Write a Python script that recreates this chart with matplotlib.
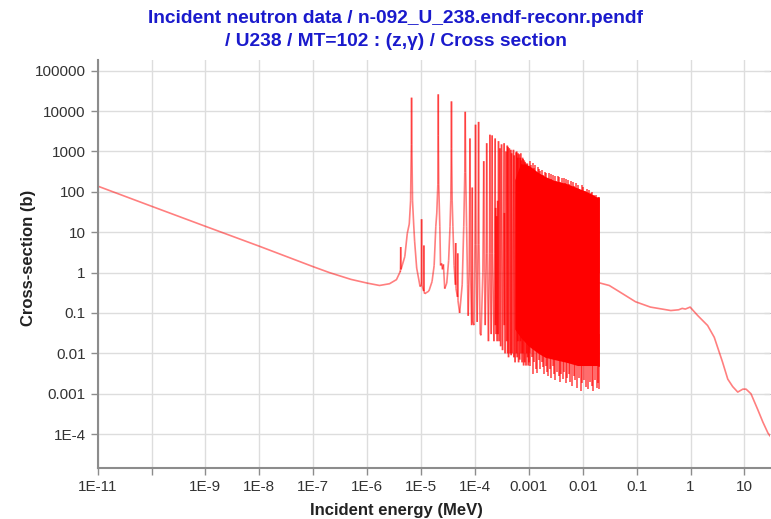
import numpy as np
import matplotlib
matplotlib.use("Agg")
import matplotlib.pyplot as plt
from matplotlib.collections import LineCollection
from matplotlib.ticker import FixedLocator, NullLocator

plt.rcParams['font.family'] = ['Liberation Sans', 'DejaVu Sans']

# 1/v region, energies in MeV, cross sections in barn
thermal_E = [1e-11, 1e-10, 1e-9, 1e-8, 1e-7, 2e-7, 5e-7, 1e-6, 1.7e-6, 2.6e-6, 3.5e-6, 4.1e-6]
thermal_xs = [139, 44, 14, 4.5, 1.4, 1.0, 0.68, 0.55, 0.48, 0.53, 0.67, 1.05]

# resolved resonances, traced peak/valley points (energies in eV)
res_E_eV = [4.15, 4.2, 4.25, 5.0, 5.56, 6.05, 6.4, 6.6, 6.674, 6.75, 6.95, 7.3, 7.6, 8.3, 9.6,
            10.15, 10.24, 10.33, 11.2, 11.3, 11.4, 11.7, 14, 16, 17.5, 18.8, 19.6, 20.5, 20.8,
            20.87, 20.95, 21.3, 22.3, 23.0, 24.0, 25.0, 26.0, 27.5, 30, 32.5, 34.5, 35.6, 36.4,
            36.68, 36.95, 37.8, 39, 41, 43.5, 44.0, 44.5, 47.5, 48, 48.5, 52, 58, 62, 64.8,
            66.03, 67.3, 70, 73, 75, 78, 80.0, 80.75, 81.5, 83, 87, 89.2, 91, 96, 100, 102.56,
            105, 110, 114, 116.9, 119, 125, 130, 140, 145.66, 150, 155, 162, 165.29, 169, 178,
            186, 189.67, 193, 200, 205, 208.51, 212, 225, 233, 237.38, 240, 242.7, 246, 253.1,
            258, 263.9, 267, 273.66, 280, 291, 300, 311.35, 325, 347.8, 350, 351.9, 362, 376.9,
            388, 397.6, 404, 410.2, 420, 433.9, 450, 463.1, 470, 478.3, 490, 518.4, 527, 535.3,
            555, 580.2, 588, 594.8, 607, 619.9, 624, 628.6, 645, 661.2, 677, 693.1, 700, 708.3,
            715, 721.6, 726, 730.2, 748, 765.0, 773, 782.4, 800, 821.2, 836, 850.6, 853, 856.0,
            861, 866.5, 885, 905.0, 915, 925.1, 931, 937.2, 947, 958.5, 975, 991.6, 1007, 1023,
            1040]
res_xs = [1.1, 4.3, 1.2, 2.5, 9.4, 16, 60, 1500, 21500, 1500, 60, 16, 6, 1.3, 0.45,
          0.5, 21, 0.5, 0.35, 4.7, 0.33, 0.3, 0.35, 0.6, 1.5, 14, 30, 150, 2500,
          26000, 2500, 150, 14, 1.5, 1.7, 1.2, 1.6, 0.4, 0.55, 2, 14, 60, 1200,
          17400, 1200, 60, 14, 1.5, 0.5, 5.4, 0.4, 0.25, 3, 0.2, 0.1, 0.5, 14, 300,
          9600, 300, 14, 0.5, 0.085, 1, 100, 2100, 100, 1, 0.05, 128, 0.06, 0.05, 5, 4600,
          5, 0.06, 5, 5400, 5, 0.03, 0.028, 1, 575, 1, 0.05, 3, 1600, 3, 0.02,
          3, 2600, 3, 0.03, 3, 2500, 3, 0.02, 3, 2100, 0.05, 40, 0.03, 25,
          0.02, 60, 0.03, 1800, 0.02, 1200, 0.015, 1500, 0.012, 1600, 0.05, 30, 0.01, 1000,
          0.02, 1400, 0.01, 1300, 0.008, 1200, 0.01, 1100, 0.009, 900, 0.01, 1100, 0.008, 800,
          0.006, 950, 0.01, 1000, 0.008, 700, 0.02, 900, 0.006, 850, 0.007, 700, 0.02, 900,
          0.01, 600, 0.03, 400, 0.006, 700, 0.01, 650, 0.005, 600, 0.006, 550, 0.05, 500,
          0.05, 450, 0.005, 500, 0.01, 450, 0.02, 500, 0.008, 420, 0.005, 400, 0.006, 380,
          0.01]

# dense resonance band (MeV)
band_E = [5.5e-4, 7e-4, 1e-3, 1.5e-3, 2e-3, 3e-3, 5e-3, 8e-3, 1.2e-2, 1.6e-2, 2.0e-2]
band_top = [200, 500, 450, 300, 240, 190, 160, 125, 100, 82, 69]
band_bot = [0.04, 0.025, 0.015, 0.01, 0.008, 0.007, 0.006, 0.005, 0.005, 0.005, 0.005]

spike_E = [1.05e-3, 1.1e-3, 1.18e-3, 1.22e-3, 1.31e-3, 1.4e-3, 1.45e-3, 1.56e-3, 1.63e-3,
           1.78e-3, 1.85e-3, 1.97e-3, 2.12e-3, 2.2e-3, 2.38e-3, 2.55e-3, 2.63e-3, 2.85e-3,
           3.05e-3, 3.2e-3, 3.45e-3, 3.7e-3, 3.82e-3, 4.1e-3, 4.45e-3, 4.6e-3, 4.95e-3,
           5.4e-3, 5.6e-3, 6.1e-3, 6.6e-3, 7.0e-3, 7.6e-3, 8.3e-3, 8.7e-3, 9.5e-3, 1.03e-2,
           1.1e-2, 1.2e-2, 1.3e-2, 1.42e-2, 1.5e-2, 1.63e-2, 1.75e-2, 1.88e-2, 1.97e-2]
spike_hi = [580, 450, 520, 380, 470, 300, 410, 360, 330, 350, 260, 310, 300, 220, 290, 270,
            210, 260, 250, 190, 240, 230, 180, 225, 215, 170, 210, 200, 160, 185, 175, 140,
            165, 150, 120, 145, 130, 105, 120, 110, 95, 100, 85, 85, 75, 72]

dip_E = [1.06e-3, 1.12e-3, 1.2e-3, 1.27e-3, 1.36e-3, 1.43e-3, 1.52e-3, 1.6e-3, 1.72e-3,
         1.81e-3, 1.93e-3, 2.05e-3, 2.16e-3, 2.3e-3, 2.47e-3, 2.6e-3, 2.76e-3, 2.95e-3,
         3.12e-3, 3.35e-3, 3.6e-3, 3.77e-3, 4.0e-3, 4.3e-3, 4.53e-3, 4.8e-3, 5.2e-3, 5.5e-3,
         5.9e-3, 6.3e-3, 6.8e-3, 7.3e-3, 7.9e-3, 8.5e-3, 9.1e-3, 9.8e-3, 1.06e-2, 1.15e-2,
         1.25e-2, 1.36e-2, 1.46e-2, 1.57e-2, 1.69e-2, 1.81e-2, 1.92e-2, 1.99e-2]
dip_lo = [0.005, 0.008, 0.003, 0.006, 0.004, 0.0032, 0.007, 0.004, 0.006, 0.0045, 0.003,
          0.005, 0.0035, 0.0028, 0.004, 0.0025, 0.005, 0.003, 0.0022, 0.0035, 0.0028, 0.002,
          0.003, 0.0023, 0.0035, 0.0018, 0.0025, 0.003, 0.002, 0.0016, 0.0028, 0.0022, 0.0014,
          0.0025, 0.0012, 0.0018, 0.0022, 0.0015, 0.0013, 0.002, 0.0016, 0.0012, 0.0022,
          0.0014, 0.0018, 0.0013]

# unresolved / fast region (MeV)
fast_E = [0.02, 0.031, 0.044, 0.095, 0.18, 0.43, 0.6, 0.7, 0.8, 0.98, 1.35, 2.07, 2.75, 3.9,
          4.9, 6.05, 7.5, 9.3, 10.7, 13.2, 17.7, 21.9, 27.2, 30]
fast_xs = [0.56, 0.48, 0.36, 0.19, 0.14, 0.115, 0.12, 0.13, 0.125, 0.14, 0.087, 0.049, 0.025,
           0.0062, 0.0023, 0.0015, 0.0011, 0.0013, 0.0013, 0.001, 0.0004, 0.0002, 0.000107,
           0.000089]

xticks = [1e-11, 1e-10, 1e-9, 1e-8, 1e-7, 1e-6, 1e-5, 1e-4, 1e-3, 1e-2, 1e-1, 1, 10]
xlabels = ['1E-11', '', '1E-9', '1E-8', '1E-7', '1E-6', '1E-5', '1E-4', '0.001', '0.01',
           '0.1', '1', '10']
yticks = [1e-4, 1e-3, 1e-2, 1e-1, 1, 10, 100, 1000, 10000, 100000]
ylabels = ['1E-4', '0.001', '0.01', '0.1', '1', '10', '100', '1000', '10000', '100000']

line_col = (1.0, 0.0, 0.0, 0.5)

fig = plt.figure(figsize=(7.71, 5.19), dpi=100)
ax = fig.add_axes([97.6 / 771, 51 / 519, 672.6 / 771, 408 / 519])

# smooth parts
ax.plot(thermal_E, thermal_xs, color=line_col, lw=1.2)
ax.plot(fast_E, fast_xs, color=line_col, lw=1.2)

# resolved resonances as separate segments so overlapping flanks darken
E_all = np.concatenate([[thermal_E[-1]], np.array(res_E_eV) / 1e6])
xs_all = np.concatenate([[thermal_xs[-1]], res_xs])
pts = np.column_stack([E_all, xs_all])
segs = np.stack([pts[:-1], pts[1:]], axis=1)
ax.add_collection(LineCollection(segs, colors=[line_col], linewidths=1.2))

# dense band
ax.fill_between(band_E, band_bot, band_top, color='#ff0000', lw=0)
ax.vlines(spike_E, 1, spike_hi, color=(1, 0, 0, 0.75), lw=1.1)
ax.vlines(dip_E, dip_lo, 0.03, color=(1, 0, 0, 0.75), lw=1.1)
ax.plot([band_E[-1], band_E[-1]], [band_bot[-1], band_top[-1]], color='#ff0000', lw=1.2)

ax.set_xscale('log')
ax.set_yscale('log')
ax.set_xlim(1e-11, 30)
ax.set_ylim(1.45e-5, 1.84e5)

ax.xaxis.set_major_locator(FixedLocator(xticks))
ax.xaxis.set_minor_locator(NullLocator())
ax.set_xticklabels(xlabels)
ax.yaxis.set_major_locator(FixedLocator(yticks))
ax.yaxis.set_minor_locator(NullLocator())
ax.set_yticklabels(ylabels)

ax.grid(True, color='#dddddd', lw=1)
ax.set_axisbelow(True)
for s in ['top', 'right']:
    ax.spines[s].set_visible(False)
for s in ['left', 'bottom']:
    ax.spines[s].set_color('#8c8c8c')
    ax.spines[s].set_linewidth(1.5)
ax.tick_params(axis='both', colors='#8c8c8c', length=5, width=1, labelsize=11,
               labelcolor='#333333')

sec = ax.secondary_yaxis('right')
sec.set_yscale('log')
sec.yaxis.set_major_locator(FixedLocator(yticks))
sec.yaxis.set_minor_locator(NullLocator())
sec.set_yticklabels([])
sec.spines['right'].set_visible(False)
sec.tick_params(direction='in', length=4, colors='#8c8c8c')

title_kw = dict(ha='center', va='baseline', fontsize=13.8, fontweight='bold', color='#1a1acc')
fig.text(396 / 771, 1 - 23 / 519, 'Incident neutron data / n-092_U_238.endf-reconr.pendf',
         **title_kw)
fig.text(396 / 771, 1 - 46 / 519, '/ U238 / MT=102 : (z,\u03b3) / Cross section', **title_kw)
fig.text(396 / 771, 1 - 510 / 519, 'Incident energy (MeV)', ha='center', va='center',
         fontsize=12, fontweight='bold', color='#222222')
fig.text(29 / 771, 1 - 258 / 519, 'Cross-section (b)', ha='center', va='center',
         rotation=90, fontsize=12, fontweight='bold', color='#222222')

fig.savefig('out.png', dpi=100)
